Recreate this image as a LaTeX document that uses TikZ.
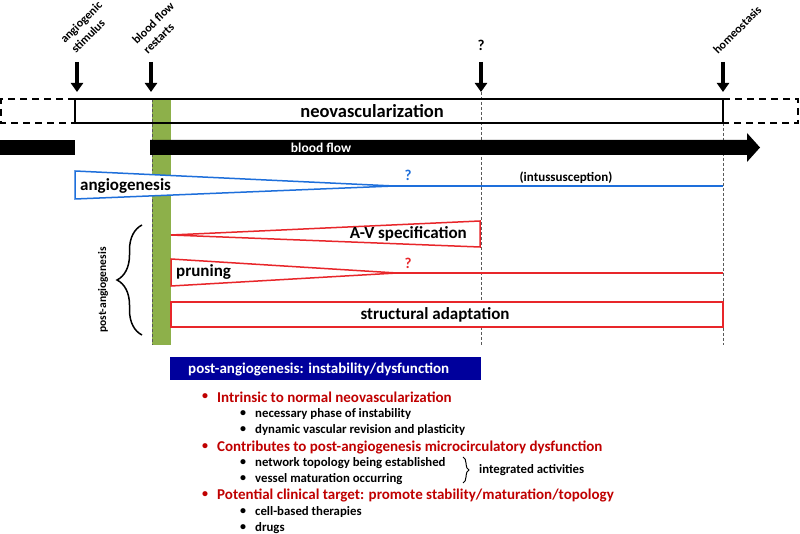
\documentclass[tikz,border=0pt]{standalone}
\usepackage{fontspec}
\setmainfont{Carlito}
\usetikzlibrary{decorations.pathreplacing,arrows.meta}
\definecolor{myred}{HTML}{E8262A}
\definecolor{txtred}{HTML}{C00000}
\definecolor{myblue}{HTML}{1E6FDB}
\definecolor{boxblue}{HTML}{00009C}
\definecolor{mygreen}{HTML}{8DB04A}
\newcommand{\fs}[1]{\fontsize{#1}{#1}\selectfont}
\begin{document}
\begin{tikzpicture}[x=1pt,y=-1pt,
  downarrow/.style={line width=4.5pt,-{Triangle[length=9pt,width=12pt]}},
  guide/.style={gray!70!black,densely dashed,line width=0.6pt},
  toplabel/.style={font=\bfseries\fs{12},anchor=base west,inner sep=0pt,rotate=45},
  redshape/.style={draw=myred,line width=1.5pt,fill=white},
  blueshape/.style={draw=myblue,line width=1.5pt},
  lbl/.style={font=\bfseries\fs{17},inner sep=0pt},
  qmark/.style={font=\bfseries\fs{15}},
  redbul/.style={font=\bfseries\fs{15},text=txtred,anchor=west,inner sep=0pt},
  subbul/.style={font=\bfseries\fs{12.8},anchor=west,inner sep=0pt},
  bul/.style={font=\bfseries\fs{12},anchor=center,inner sep=0pt}]
\useasboundingbox (0,0) rectangle (800,534);
\fill[white] (0,0) rectangle (800,534);

% coordinates
\coordinate (a1t) at (77,62); \coordinate (a1b) at (77,92);
\coordinate (a2t) at (151,62); \coordinate (a2b) at (151,92);
\coordinate (a3t) at (481,62); \coordinate (a3b) at (481,92);
\coordinate (a4t) at (723,62); \coordinate (a4b) at (723,92);

% top labels
\node[toplabel] (lstim1) at (65,44) {angiogenic};
\node[toplabel] (lstim2) at (76,54) {stimulus};
\node[toplabel] (lrest1) at (137,45) {blood flow};
\node[toplabel] (lrest2) at (148,55) {restarts};
\node[qmark] (lq) at (481,45) {?};
\node[toplabel] (lhom) at (718,55) {homeostasis};

\draw[downarrow] (a1t) -- (a1b);
\draw[downarrow] (a2t) -- (a2b);
\draw[downarrow] (a3t) -- (a3b);
\draw[downarrow] (a4t) -- (a4b);

% green bar
\fill[mygreen] (152,99) rectangle (171,345);

% angiogenesis triangle (over green bar)
\draw[blueshape,fill=white] (75,171) -- (394,186) -- (75,199) -- cycle;
\draw[blueshape] (394,186) -- (723,186);

% guides
\draw[guide] (152,99) -- (152,171);
\draw[guide] (152,199) -- (152,345);
\draw[guide] (481,92) -- (481,345);
\draw[guide] (723,123) -- (723,345);

% neovascularization bar
\draw[line width=1.3pt] (75,99) rectangle (723,123);
\draw[line width=1.6pt,dash pattern=on 7pt off 5pt] (75,99) -- (1,99) -- (1,123) -- (75,123);
\draw[line width=1.6pt,dash pattern=on 7pt off 5pt] (723,99) -- (798,99) -- (798,123) -- (723,123);
\node[font=\bfseries\fs{18.5}] (neo) at (372,111) {neovascularization};

% blood flow
\fill (0,140) rectangle (75,155);
\fill (150,140) -- (747,140) -- (747,133) -- (760,147.5) -- (747,162) -- (747,155) -- (150,155) -- cycle;
\node[font=\bfseries\fs{13.5},text=white] (bf) at (321,147.5) {blood flow};

\node[lbl,anchor=west] (angio) at (80,185.5) {angiogenesis};
\node[qmark,text=myblue] (bq) at (408,175) {?};
\node[font=\bfseries\fs{13}] (intus) at (566,178) {(intussusception)};

% A-V specification
\draw[redshape] (171,235) -- (480,221) -- (480,247) -- cycle;
\node[lbl,anchor=east] (av) at (467,234) {A-V specification};

% pruning
\draw[redshape] (171,259) -- (397,273) -- (171,286) -- cycle;
\draw[myred,line width=1.5pt] (397,273) -- (723,273);
\node[lbl,anchor=west] (prun) at (176,272) {pruning};
\node[qmark,text=myred] (rq) at (408,263) {?};

% structural adaptation
\draw[redshape] (171,302) rectangle (723,327);
\node[lbl] (struct) at (435,314.5) {structural adaptation};

% brace
\draw[line width=1.5pt,decorate,decoration={brace,amplitude=25pt}] (142,335) -- (142,225);
\node[font=\bfseries\fs{11.5},rotate=90] (post) at (103,290) {post-angiogenesis};

% blue box
\fill[boxblue] (170,357) rectangle (481,380);
\node[font=\bfseries\fs{15},text=white,anchor=west,inner sep=0pt] (boxt) at (188,369) {post-angiogenesis: instability/dysfunction};

% bullets
\node[bul,text=txtred] (b1) at (205,397) {•};
\node[redbul] (t1) at (217,397) {Intrinsic to normal neovascularization};
\node[bul] (b11) at (243,414) {•};
\node[subbul] (t11) at (255,414) {necessary phase of instability};
\node[bul] (b12) at (243,430) {•};
\node[subbul] (t12) at (255,430) {dynamic vascular revision and plasticity};
\node[bul,text=txtred] (b2) at (205,447) {•};
\node[redbul] (t2) at (217,447) {Contributes to post-angiogenesis microcirculatory dysfunction};
\node[bul] (b21) at (243,463) {•};
\node[subbul] (t21) at (255,463) {network topology being established};
\node[bul] (b22) at (243,479) {•};
\node[subbul] (t22) at (255,479) {vessel maturation occurring};
\draw[line width=1pt,decorate,decoration={brace,amplitude=6pt}] (463,457) -- (463,483);
\node[subbul] (integ) at (479,470) {integrated activities};
\node[bul,text=txtred] (b3) at (205,495) {•};
\node[redbul] (t3) at (217,495) {Potential clinical target: promote stability/maturation/topology};
\node[bul] (b31) at (243,512) {•};
\node[subbul] (t31) at (255,512) {cell-based therapies};
\node[bul] (b32) at (243,528) {•};
\node[subbul] (t32) at (255,528) {drugs};
\end{tikzpicture}
\end{document}
